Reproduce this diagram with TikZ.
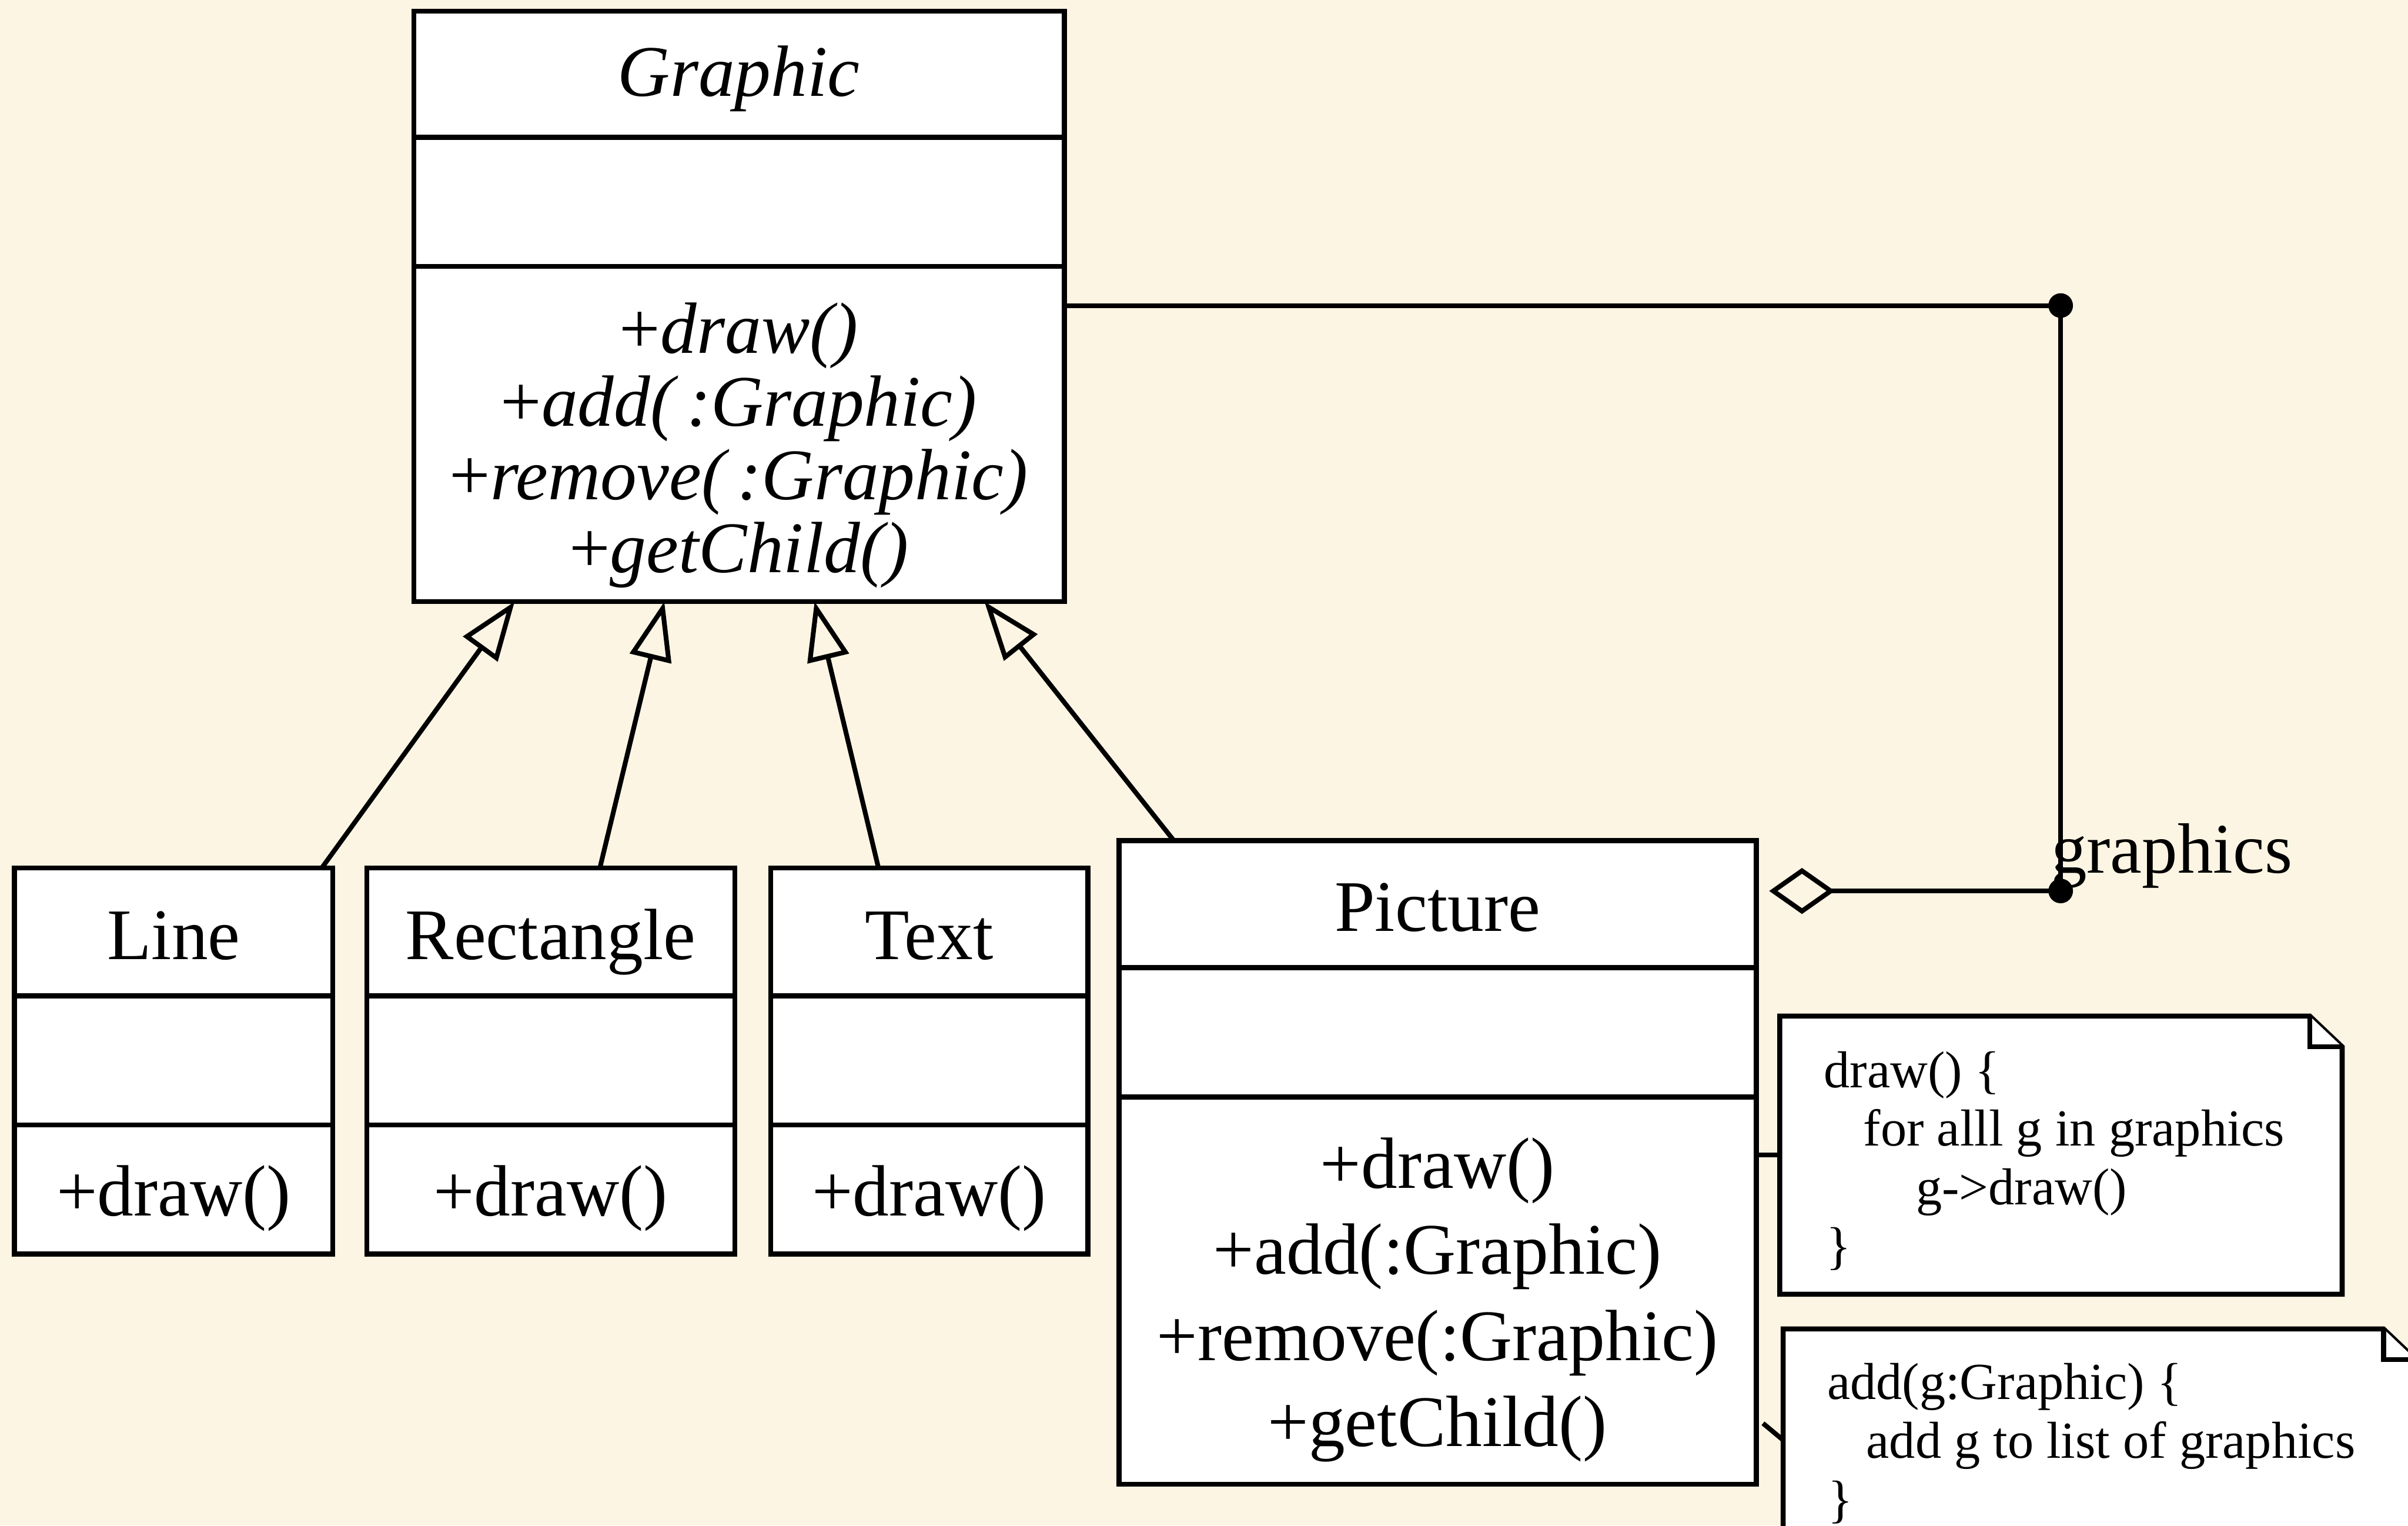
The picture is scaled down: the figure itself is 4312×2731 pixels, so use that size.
\documentclass[tikz,border=0pt]{standalone}
\usepackage{fontspec}
\setmainfont{Liberation Serif}
\usetikzlibrary{arrows.meta,fit,calc}
\definecolor{bgc}{HTML}{FDF5E3}
\begin{document}
\begin{tikzpicture}[x=0.2pt,y=-0.2pt,
  every node/.style={inner sep=0pt, outer sep=0pt},
  classbox/.style={draw, fill=white, line width=1.8pt, inner sep=0pt},
  sepline/.style={line width=1.8pt},
  conn/.style={line width=1.7pt},
  lbl/.style={font=\fontsize{26pt}{31pt}\selectfont, anchor=base},
  ilbl/.style={font=\fontsize{26pt}{31pt}\selectfont\itshape, anchor=base},
  notetxt/.style={font=\fontsize{18.6pt}{21pt}\selectfont, anchor=base west},
  notebox/.style={draw, fill=white, line width=1.8pt},
  inh/.style={conn, -{Triangle[open, length=21pt, width=15pt]}},
  agg/.style={conn, -{Diamond[open, length=23.5pt, width=16.5pt]}, shorten >=4.6pt},
  junction/.style={circle, fill=black, inner sep=0pt, minimum size=8.8pt}]

\useasboundingbox (0,0) rectangle (4312,2731);
\fill[bgc] (0,0) rectangle (4312,2731);
\clip (0,0) rectangle (4312,2731);

% ---------- Graphic ----------
\node[classbox, fit={(741,20) (1906,1077)}] (graphic) {};
\draw[sepline] (741,246) -- (1906,246);
\draw[sepline] (741,477) -- (1906,477);
\node[ilbl] (gtitle) at (1323,172) {Graphic};
\node[lbl] (gm1) at (1323,632) {+\textit{draw()}};
\node[lbl] (gm2) at (1323,763) {+\textit{add(\,:Graphic)}};
\node[lbl] (gm3) at (1323,894) {+\textit{remove(\,:Graphic)}};
\node[lbl] (gm4) at (1323,1025) {+\textit{getChild()}};

% ---------- Line ----------
\node[classbox, fit={(26,1554) (596,2245)}] (line) {};
\draw[sepline] (26,1783) -- (596,1783);
\draw[sepline] (26,2014) -- (596,2014);
\node[lbl] (ltitle) at (311,1717) {Line};
\node[lbl] (lm1) at (311,2176) {+draw()};

% ---------- Rectangle ----------
\node[classbox, fit={(657,1554) (1316,2245)}] (rect) {};
\draw[sepline] (657,1783) -- (1316,1783);
\draw[sepline] (657,2014) -- (1316,2014);
\node[lbl] (rtitle) at (986,1717) {Rectangle};
\node[lbl] (rm1) at (986,2176) {+draw()};

% ---------- Text ----------
\node[classbox, fit={(1380,1554) (1948,2245)}] (text) {};
\draw[sepline] (1380,1783) -- (1948,1783);
\draw[sepline] (1380,2014) -- (1948,2014);
\node[lbl] (ttitle) at (1664,1717) {Text};
\node[lbl] (tm1) at (1664,2176) {+draw()};

% ---------- Picture ----------
\node[classbox, fit={(2004,1505) (3145,2657)}] (picture) {};
\draw[sepline] (2004,1732) -- (3145,1732);
\draw[sepline] (2004,1964) -- (3145,1964);
\node[lbl] (ptitle) at (2574,1667) {Picture};
\node[lbl] (pm1) at (2574,2127) {+draw()};
\node[lbl] (pm2) at (2574,2281) {+add(:Graphic)};
\node[lbl] (pm3) at (2574,2435) {+remove(:Graphic)};
\node[lbl] (pm4) at (2574,2589) {+getChild()};

% ---------- Generalizations ----------
\draw[inh] ($(line.north west)!0.965!(line.north east)$) -- ($(graphic.south west)!0.155!(graphic.south east)$);
\draw[inh] ($(rect.north west)!0.633!(rect.north east)$) -- ($(graphic.south west)!0.385!(graphic.south east)$);
\draw[inh] ($(text.north west)!0.34!(text.north east)$) -- ($(graphic.south west)!0.616!(graphic.south east)$);
\draw[inh] ($(picture.north west)!0.086!(picture.north east)$) -- ($(graphic.south west)!0.877!(graphic.south east)$);

% ---------- Aggregation ----------
\node[junction] (j1) at (3690,547) {};
\node[junction] (j2) at (3690,1595) {};
\draw[conn] (j1 -| graphic.east) -- (j1.center);
\draw[conn] (j1.center) -- (j2.center);
\draw[agg] (j2.center) -- (j2 -| picture.east);
\node[font=\fontsize{25.5pt}{30pt}\selectfont, anchor=base west] (role) at (3673,1563) {graphics};

% ---------- Notes ----------
\node[fit={(3187,1819) (4194,2317)}] (note1) {};
\draw[notebox] (note1.north west) -- ($(note1.north east)+(-58,0)$) -- ($(note1.north east)+(0,55)$) -- (note1.south east) -- (note1.south west) -- cycle;
\draw[notebox] ($(note1.north east)+(-58,0)$) -- ($(note1.north east)+(-58,55)$) -- ($(note1.north east)+(0,55)$);
\node[notetxt] (n1a) at (3266,1947) {draw() \{};
\node[notetxt] (n1b) at (3337,2051) {for alll g in graphics};
\node[notetxt] (n1c) at (3431,2157) {g->draw()};
\node[notetxt] (n1d) at (3270,2262) {\}};

\node[fit={(3193,2379) (4326,2800)}] (note2) {};
\draw[notebox] (note2.north west) -- ($(note2.north east)+(-58,0)$) -- ($(note2.north east)+(0,55)$) -- (note2.south east) -- (note2.south west) -- cycle;
\draw[notebox] ($(note2.north east)+(-58,0)$) -- ($(note2.north east)+(-58,55)$) -- ($(note2.north east)+(0,55)$);
\node[notetxt] (n2a) at (3272,2505) {add(g:Graphic) \{};
\node[notetxt] (n2b) at (3342,2610) {add g to list of graphics};
\node[notetxt] (n2c) at (3273,2715) {\}};

% ---------- Note attachments ----------
\draw[conn] (picture.east |- note1.west) -- (note1.west);
\coordinate (stub2) at (3157,2548);
\draw[conn] (stub2) -- (note2.west |- 0,2578);
\end{tikzpicture}
\end{document}
